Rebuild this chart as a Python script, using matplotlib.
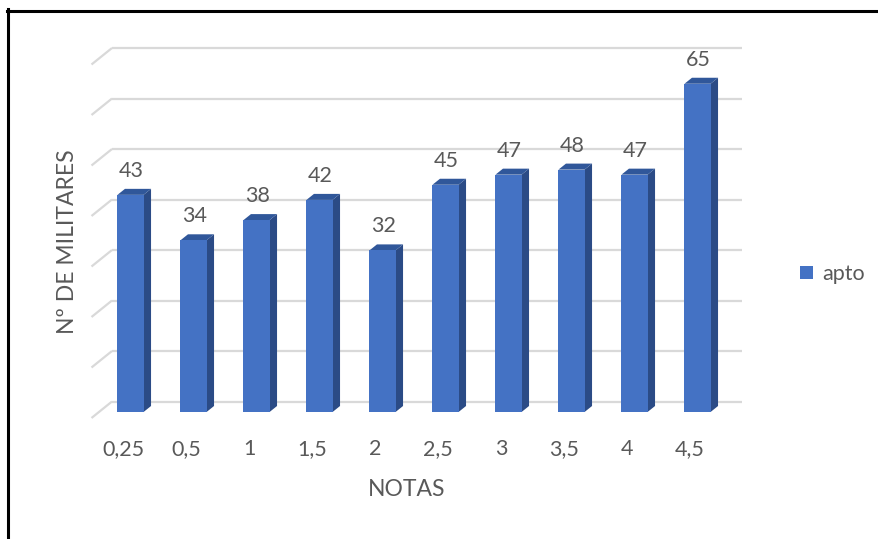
import matplotlib
matplotlib.use("Agg")
import matplotlib.pyplot as plt
from matplotlib.patches import Polygon, Patch
from matplotlib.lines import Line2D

plt.rcParams['font.family'] = ['Lato', 'DejaVu Sans']

notas = ['0,25', '0,5', '1', '1,5', '2', '2,5', '3', '3,5', '4', '4,5']
apto = [43, 34, 38, 42, 32, 45, 47, 48, 47, 65]
grid_vals = list(range(0, 71, 10))

c_front = '#4472C4'
c_side = '#2B4B86'
c_top = '#30579A'
c_grid = '#D9D9D9'
c_text = '#595959'

fig = plt.figure(figsize=(8.79, 5.39), dpi=100)
W, H = 879, 539
ax = fig.add_axes([99 / W, 127 / H, 630 / W, 353.5 / H])
ax.set_xlim(-0.5, len(notas) - 0.5)
ax.set_ylim(0, 70)
ax.axis('off')

# pixel -> data scale, used for the fake 3d depth
sx = ax.bbox.width / (ax.get_xlim()[1] - ax.get_xlim()[0])
sy = ax.bbox.height / (ax.get_ylim()[1] - ax.get_ylim()[0])

def off(px, py):
    return px / sx, py / sy

# back wall offset and floor front offset relative to the bar faces
bx, by = off(13, 10.5)
fx, fy = off(-7.5, -6)
x0, x1 = ax.get_xlim()

for v in grid_vals:
    ax.plot([x0 + bx, x1 + bx], [v + by, v + by], color=c_grid, lw=1.6,
            clip_on=False, zorder=1, solid_capstyle='butt')
    ax.plot([x0 + bx, x0 + fx], [v + by, v + fy], color=c_grid, lw=1.6,
            clip_on=False, zorder=1, solid_capstyle='butt')

w = 0.414
dx, dy = off(7.5, 6)
for i, v in enumerate(apto):
    l, r = i - w / 2, i + w / 2
    ax.bar(i, v, width=w, color=c_front, zorder=3)
    ax.add_patch(Polygon([(r, 0), (r, v), (r + dx, v + dy), (r + dx, dy)],
                         closed=True, facecolor=c_side, edgecolor='none',
                         zorder=2, clip_on=False))
    ax.add_patch(Polygon([(l, v), (r, v), (r + dx, v + dy), (l + dx, v + dy)],
                         closed=True, facecolor=c_top, edgecolor='none',
                         zorder=2, clip_on=False))
    ax.annotate(str(v), (i, v), xytext=(1, 24), textcoords='offset pixels',
                ha='center', va='center', fontsize=15.5, color=c_text,
                annotation_clip=False)
    ax.annotate(notas[i], (i, 0), xytext=(-7.5, -37), textcoords='offset pixels',
                ha='center', va='center', fontsize=15.5, color=c_text,
                annotation_clip=False)

ax.annotate('NOTAS', ((x0 + x1) / 2, 0), xytext=(-7.5, -78),
            textcoords='offset pixels', ha='center', va='center',
            fontsize=16.5, color=c_text, annotation_clip=False)
fig.text(68 / W, 1 - 242 / H, 'Nº DE MILITARES', rotation=90, ha='center',
         va='center', fontsize=16.5, color=c_text)

fig.legend(handles=[Patch(facecolor=c_front, label='apto')],
           loc='center left', bbox_to_anchor=(781 / W, 1 - 274 / H),
           frameon=False, fontsize=15.5, handlelength=0.6, handleheight=0.6,
           handletextpad=0.4, labelcolor=c_text)

# outer frame (top and left edges)
fig.add_artist(Line2D([7 / W, 1], [1 - 10.5 / H, 1 - 10.5 / H], color='black',
                      lw=2.2, transform=fig.transFigure))
fig.add_artist(Line2D([8 / W, 8 / W], [0, 1 - 9 / H], color='black',
                      lw=2.2, transform=fig.transFigure))

fig.savefig('out.png', dpi=100)
